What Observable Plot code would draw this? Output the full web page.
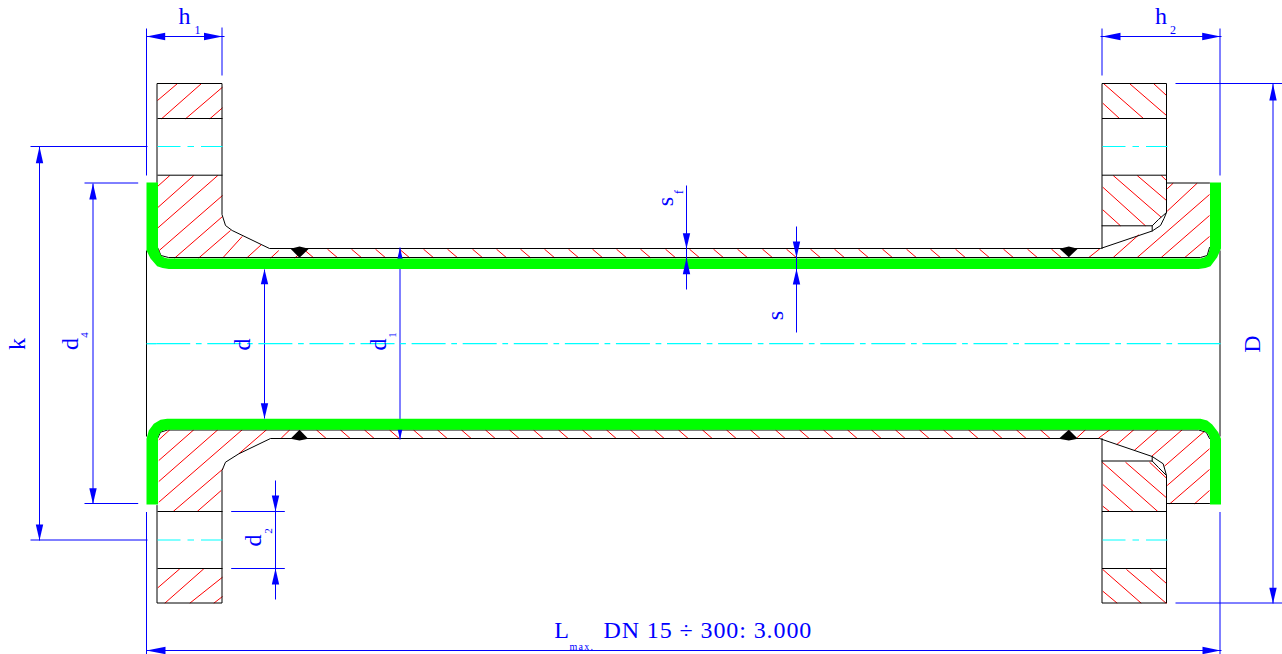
<!DOCTYPE html>
<html>
<head>
<meta charset="utf-8">
<script src="https://cdn.jsdelivr.net/npm/d3@7"></script>
<script src="https://cdn.jsdelivr.net/npm/@observablehq/plot@0.6"></script>
<style>
html,body{margin:0;padding:0;background:#fff}
svg{display:block}
</style>
</head>
<body>
<div id="chart"></div>
<script>
// Drawing units are the picture's own pixels.
const outlineTopLeft = [[156.5,182],[156.5,83],[221.5,83],[221.5,214],[225,225],[231.7,230],[269,248],[1100,248],[1151.7,230.5],[1160,225],[1163.5,218],[1166,212]];
const outlineTopRightFlange = [[1101.5,248],[1101.5,83],[1166,83],[1166,212],[1158,219],[1151.7,225.3],[1101.5,225.3]];
const outlineHubTopRight = [[1151.7,225.3],[1151.7,230.5]];
const outlineHubCapTop = [[1166,182.5],[1209,182.5]];
const outlineTubeTop = [[157,247],[160.5,255],[168,257],[1200,257],[1206.7,255],[1209,247]];
const outlineBottomLeft = [[156.5,505],[156.5,602.5],[221.5,602.5],[221.5,470],[225,461.7],[238.3,453.3],[270,438],[1099,438],[1151.7,456],[1162.7,463.3],[1166,475],[1166,602.5],[1101.5,602.5],[1101.5,438]];
const outlineBottomRightStep = [[1101.5,460.5],[1151.7,460.5],[1158,467],[1166,475]];
const outlineHubBottomRight = [[1151.7,456],[1151.7,460.5]];
const outlineHubCapBottom = [[1166,503],[1209,503]];
const outlineTubeBottom = [[157,438],[160,431.7],[167,429.5],[1198,429.5],[1205.7,431.7],[1209,438]];
const outlineHoleEdges = [
  [157,118,222,118],[157,174.7,222,174.7],[157,511,222,511],[157,568,222,568],
  [1101.5,118,1166,118],[1101.5,174.7,1166,174.7],[1101.5,511,1166,511],[1101.5,568,1166,568]
];
const bodyEnds = [[146,250,146,436],[1219.5,250,1219.5,436]];

const greenTop = [[146,182],[157.5,182],[157.5,246.7],[158.7,251],[160.7,255],[163.5,257],[167.3,258],[1200,258],[1203.7,257],[1206.7,255],[1208.5,251],[1209.5,246.7],[1209.5,182],[1220.5,182],[1220.5,248],[1216.7,256.7],[1210,265.7],[1205,267.6],[1198.3,268.4],[168.3,268.4],[162,267.6],[156.7,265.7],[150,258],[146,250]];
const greenBottom = [[146,504],[157.5,504],[157.5,438.3],[158.3,434.5],[160,431.7],[163,430],[167.3,429.3],[1198.3,429.3],[1202.5,430],[1205.7,431.7],[1208.3,434.5],[1209.5,438.3],[1209.5,504],[1220.5,504],[1220.5,438.3],[1217.7,431.7],[1211.7,424],[1206.7,420],[1200,418.3],[166.7,418.3],[160,419.3],[153.3,423.3],[148.3,430],[146,438.3]];

const welds = [
  [[290,248.3],[299,246],[308.3,248.3],[299,257.3]],
  [[1059,248.3],[1068.3,246],[1077.3,248.3],[1068.3,256.7]],
  [[290,438.3],[299,429.3],[307.7,438.3],[299,440]],
  [[1058.3,438.3],[1068.3,429.3],[1077.3,438.3],[1068.3,440]]
];

const hatchLeftFlanges = [
  [157,100,176.7,83.3],[161,118.3,200.7,83.3],[185,118.3,222,86.7],[209.3,118.3,222,107.3],
  [179.3,568.3,157.3,587.3],[203.3,568.3,164.3,602.7],[222,576.7,189.3,602.7],[222,596,213.3,602.7]
];
const hatchLeftHubTop = [
  [169.3,175,157,186],[193.3,175,157,207.3],[217.3,175,157,227.7],[222,195,158.7,250],
  [222,216,174,257.7],[230,230,198,257.7],[241.7,236,222,257.7],[260.7,244.3,246,257.7],
  [278.3,250,270,257.7],[305,248.3,294,257.7]
];
const hatchLeftHubBottom = [
  [169.3,429.3,158.3,439.3],[193.3,429.3,158.3,460],[217.3,429.3,158.3,481],[241.7,429.3,158.3,501.7],
  [266,429.3,238.3,453.3],[222.7,468.3,172.7,511],[220.7,490,196.7,511],[289.3,429.3,280.7,437.7]
];
const hatchRightFlanges = [
  [1103.3,83.3,1143.3,118.3],[1129.3,83.3,1166,115],[1153.3,83.3,1166,95],[1102.3,102.7,1119.3,118.3],
  [1112.7,175,1160.7,216.7],[1136.7,175,1166,200],[1160.7,175,1166,180],[1102.3,186.7,1145,225.3],[1102.3,209.3,1120,225.3],
  [1101.7,461.7,1157.3,511],[1125,461.7,1166,497.3],[1149,461.7,1166,477.7],[1102.3,484,1132.7,511],[1102.3,505.7,1109,511],
  [1102.3,569,1140.7,602.7],[1126,569,1166,603],[1150,569,1166,583],[1102.3,590.7,1116.7,602.7]
];
const hatchRightHubTop = [
  [1196.7,182.7,1166.7,210.7],[1172.7,182.7,1166.7,188.3],
  [1088.3,257,1099.3,248.3],[1112.7,257,1138.3,234.3],[1136.7,257,1209,194],[1160.7,257,1209,215],[1184.3,257,1209,236]
];
const hatchRightHubBottom = [
  [1076,437.7,1085,429.3],[1098,437.7,1109.3,429.3],[1116.3,444,1133.3,429.3],[1133.7,450,1157.3,429.3],
  [1151.3,455.7,1181.7,429.3],[1164,465.7,1205.7,429.3],[1166.7,485,1209,448.3],[1169.3,503.3,1209,469],[1194,503.3,1209,490]
];
const tubeHatchTopStarts = [303,327,351,375,399,423,447,472,496,520,544,568,592,616,640,665,689,713,737,762,786,810,834,858,882,906,930,955,979,1003,1027,1051];
const tubeHatchBottomStarts = [316,340,364,389,413,437,461,485,509,533,558,582,606,630,654,678,702,726,750,775,799,823,847,871,895,919,943,968,992,1016,1040];

const blueLines = [
  [146,28,146,175],[221.5,27,221.5,75],[146,36,224,36],
  [1101.5,28,1101.5,75],[1219.5,28,1219.5,175],[1219.5,511.5,1219.5,654],[1100,36,1221,36],
  [1272.5,83,1272.5,603],[1175,83,1282,83],[1175,602.5,1282,602.5],
  [146,511.5,146,654],[146,650,1221,650],
  [92.5,183,92.5,503],[84,182.5,137.7,182.5],[84,503,137.7,503],
  [39,146,39,540],[30,146,147,146],[30,539.5,147,539.5],
  [264,269,264,418],[275,480,275,599],[230.7,511,284.3,511],[230.7,568,284.3,568],
  [686,185,686,289],[796,226,796,332]
];
const blueLineUnderGreen = [[399.5,247,399.5,439]];
const arrowsUnderGreen = [[399.5,247,399.5,263],[399.5,439,399.5,423]];
const arrows = [
  [146,36,164.7,36],[222,36,203.5,36],[1101.7,36,1120,36],[1220,36,1201.7,36],
  [1272.5,83.3,1272.5,100],[1272.5,603,1272.5,587.3],
  [39,146,39,162.7],[39,540,39,524],
  [92.5,183,92.5,199],[92.5,503.5,92.5,487.7],
  [264,268.7,264,283.7],[264,418.3,264,402.7],
  [275,511,275,495],[275,568,275,584],
  [686,248.3,686,232.7],[686,257.3,686,273.7],
  [796,257.3,796,241],[796,268.3,796,284],
  [146,650,165,650],[1220,650,1202,650]
];
const holeCenters = [[157,146,222,146],[1102,146,1167,146],[157,539.5,222,539.5],[1102,539.5,1167,539.5]];
const axisDashed = [[155.7,343.2,1177.3,343.2]];
const axisSolid = [[146,343.2,155.7,343.2],[1177.3,343.2,1220,343.2]];

const labels = [
  {t:"h",x:184,y:16.3,s:24,r:0},{t:"1",x:197,y:29.2,s:12,r:0},
  {t:"h",x:1160.5,y:16.3,s:24,r:0},{t:"2",x:1172.5,y:29.2,s:12,r:0},
  {t:"k",x:17.3,y:343.5,s:24,r:-90},
  {t:"d",x:70.3,y:343.5,s:24,r:-90},{t:"4",x:83.5,y:334.5,s:11,r:-90},
  {t:"d",x:242.3,y:344,s:24,r:-90},
  {t:"d",x:378,y:344,s:24,r:-90},{t:"1",x:391.5,y:334.5,s:11,r:-90},
  {t:"d",x:253,y:540,s:24,r:-90},{t:"2",x:267.5,y:530.5,s:11,r:-90},
  {t:"s",x:665.3,y:201,s:24,r:-90},{t:"f",x:678.5,y:191.5,s:12,r:-90},
  {t:"s",x:774.6,y:315,s:24,r:-90},
  {t:"D",x:1252.3,y:343.5,s:24,r:-90},
  {t:"L",x:561,y:629.6,s:24,r:0}
];
const lengthLabel = [{t:"DN 15 ÷ 300: 3.000",x:603,y:629.6}];
const lengthSub = [{t:"max.",x:569,y:645.8}];

// Tables for the library
const shape = (pts, id) => pts.map(([x,y]) => ({x,y,id}));
const shapes = list => list.flatMap((pts,i) => shape(pts,i));
const segs = list => list.map(([x1,y1,x2,y2]) => ({x1,y1,x2,y2}));
const triangle = ([tx,ty,bx,by]) => {
  const len = Math.hypot(bx-tx,by-ty), nx = -(by-ty)/len*3.7, ny = (bx-tx)/len*3.7;
  return [[tx,ty],[bx+nx,by+ny],[bx-nx,by-ny]];
};
const linkOf = (list, stroke, extra={}) => Plot.link(segs(list),{x1:"x1",y1:"y1",x2:"x2",y2:"y2",stroke,strokeWidth:1,...extra});
const polyOf = (list, stroke) => Plot.line(shapes(list),{x:"x",y:"y",z:"id",stroke,strokeWidth:1,curve:"linear"});
const fillOf = (list, fill) => Plot.line(shapes(list),{x:"x",y:"y",z:"id",fill,stroke:"none",curve:"linear"});

const hatch = [
  ...hatchLeftFlanges,...hatchLeftHubTop,...hatchLeftHubBottom,
  ...hatchRightFlanges,...hatchRightHubTop,...hatchRightHubBottom,
  ...tubeHatchTopStarts.map(x=>[x,248.7,x+10.4,257.5]),
  ...tubeHatchBottomStarts.map(x=>[x,429.5,x+9.4,437.7])
];
const outlines = [outlineTopLeft,outlineTopRightFlange,outlineHubTopRight,outlineHubCapTop,outlineTubeTop,
  outlineBottomLeft,outlineBottomRightStep,outlineHubBottomRight,outlineHubCapBottom,outlineTubeBottom];

const BLUE = "#0000ff", FONT = "Liberation Serif";
const chart = Plot.plot({
  width:1282, height:654, margin:0,
  x:{axis:null,domain:[0,1282],range:[0,1282]},
  y:{axis:null,domain:[0,654],range:[0,654]},
  style:{background:"#fff"},
  marks:[
    linkOf(hatch,"#ff0000"),
    polyOf(outlines,"#000"),
    linkOf(outlineHoleEdges,"#000"),
    linkOf(bodyEnds,"#000"),
    fillOf(welds,"#000"),
    linkOf(blueLineUnderGreen,BLUE),
    fillOf(arrowsUnderGreen.map(triangle),BLUE),
    fillOf([greenTop,greenBottom],"#00ff00"),
    linkOf(blueLines,BLUE),
    fillOf(arrows.map(triangle),BLUE),
    linkOf(axisDashed,"#00ffff",{strokeWidth:1.3,strokeDasharray:"34 5.7 5.7 5.68"}),
    linkOf(axisSolid,"#00ffff",{strokeWidth:1.3}),
    linkOf(holeCenters,"#00ffff",{strokeDasharray:"23 7 6.5 7"}),
    Plot.text(labels,{x:"x",y:"y",text:"t",fontSize:"s",rotate:"r",fill:BLUE,fontFamily:FONT,
      textAnchor:"middle",lineAnchor:"middle"}),
    Plot.text(lengthLabel,{x:"x",y:"y",text:"t",fontSize:24,fill:BLUE,fontFamily:FONT,textAnchor:"start"}),
    Plot.text(lengthSub,{x:"x",y:"y",text:"t",fontSize:10,fill:BLUE,fontFamily:FONT,textAnchor:"start"})
  ]
});
d3.select(chart).selectAll("text").filter(function(){return this.textContent===lengthLabel[0].t;}).attr("letter-spacing","0.9px");
d3.select(chart).selectAll("text").filter(function(){return this.textContent===lengthSub[0].t;}).attr("letter-spacing","1.3px");
document.getElementById("chart").append(chart);
</script>
</body>
</html>
